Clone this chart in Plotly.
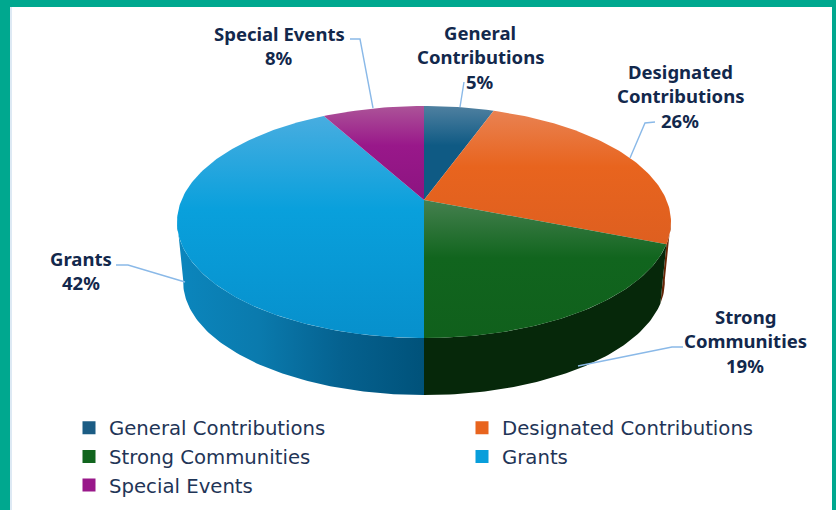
import math
import plotly.graph_objects as go

categories = ["General Contributions", "Designated Contributions", "Strong Communities", "Grants", "Special Events"]
values = [5.5, 25.5, 19, 42, 8]
top_colors = ["#0f5a84", "#e8641e", "#11651e", "#09a0dc", "#99188a"]
top_light = ["#4f80a0", "#e98252", "#45804f", "#48ade0", "#ac5398"]
top_dark = ["#0f5a84", "#de5f20", "#10601c", "#0790cc", "#8c1480"]
legend_colors = ["#1b5c84", "#e8641e", "#11651e", "#089edb", "#99188a"]
side_colors = [
    ["#123f5c", "#123f5c"],
    ["#5c2206", "#7a2e08"],
    ["#06280a", "#06280a"],
    ["#0b86bd", "#0a7aad", "#05618f", "#00527a"],
    ["#6a1060", "#6a1060"],
]
label_lines = [
    ["General", "Contributions", "5%"],
    ["Designated", "Contributions", "26%"],
    ["Strong", "Communities", "19%"],
    ["Grants", "42%"],
    ["Special Events", "8%"],
]
label_anchor = [(480, 32), (680, 71), (745, 316), (81, 258), (279, 33)]
leaders = [
    [(464, 82), (460, 107)],
    [(655, 122), (645, 123), (630, 158)],
    [(683, 347), (672, 347), (578, 366)],
    [(116, 265), (128, 265), (185, 282)],
    [(350, 39), (360, 39), (373, 108)],
]

W, H = 836, 510
CX, CY = 424, 200
A, B, K = 242.5, 111.8, 0.19
S, D = 0.975, 60.5


def top_pt(theta):
    t = math.radians(theta)
    w = 1 + K * math.cos(t)
    return CX + A * math.sin(t) / w, CY - B * math.cos(t) / w


def bottom_pt(theta):
    x, y = top_pt(theta)
    return CX + S * (x - CX), CY + S * (y - CY) + D


fig = go.Figure()

total = sum(values)
edges = [0]
for v in values:
    edges.append(edges[-1] + 360 * v / total)

# side wall: one outline per slice on the front-facing arc
VIS_RIGHT, VIS_LEFT = 100.0, 260.0
for i in range(len(values)):
    a0, a1 = max(edges[i], VIS_RIGHT), min(edges[i + 1], VIS_LEFT)
    if a1 <= a0:
        continue
    n = max(4, int(a1 - a0))
    thetas = [a0 + (a1 - a0) * j / n for j in range(n + 1)]
    p = [top_pt(t) for t in thetas] + [bottom_pt(t) for t in reversed(thetas)]
    p.append(p[0])
    xs = [q[0] for q in p]
    ys = [q[1] for q in p]
    cols = side_colors[i]
    fig.add_trace(go.Scatter(
        x=xs, y=ys, mode="lines", fill="toself",
        fillgradient=dict(type="horizontal", start=min(xs), stop=max(xs),
                          colorscale=[[j / (len(cols) - 1), c] for j, c in enumerate(cols)]),
        line=dict(width=0), hoverinfo="skip", showlegend=False))

# top face
for i, (name, v) in enumerate(zip(categories, values)):
    a0, a1 = edges[i], edges[i + 1]
    n = max(8, int(a1 - a0))
    arc = [top_pt(a0 + (a1 - a0) * j / n) for j in range(n + 1)]
    pts = [(CX, CY)] + arc + [(CX, CY)]
    xs = [q[0] for q in pts]
    ys = [q[1] for q in pts]
    y0, y1 = min(ys), max(ys)
    fig.add_trace(go.Scatter(
        x=xs, y=ys, mode="lines", fill="toself",
        fillgradient=dict(type="vertical", start=y0, stop=y1,
                          colorscale=[[0, top_light[i]], [0.42, top_colors[i]], [1, top_dark[i]]]),
        line=dict(width=0), name=name, showlegend=False,
        hovertemplate=f"{name}<extra></extra>"))

# legend entries
for name, col in zip(categories, legend_colors):
    fig.add_trace(go.Scatter(
        x=[None], y=[None], mode="markers", name=name,
        marker=dict(symbol="square", size=13, color=col)))

annotations = []
for lines, (ax, ay) in zip(label_lines, label_anchor):
    for k, text in enumerate(lines):
        annotations.append(dict(
            x=ax, y=ay + k * 24.7, xref="x", yref="y", text=text, showarrow=False,
            xanchor="center", yanchor="middle",
            font=dict(family="Noto Sans", size=18.5, color="#12284c", weight="bold")))

teal = "#00a88f"
shapes = [
    dict(type="rect", xref="x", yref="y", x0=0, x1=W, y0=0, y1=7, fillcolor=teal, line_width=0, layer="below"),
    dict(type="rect", xref="x", yref="y", x0=0, x1=10, y0=0, y1=H, fillcolor=teal, line_width=0, layer="below"),
    dict(type="rect", xref="x", yref="y", x0=832, x1=W, y0=0, y1=H, fillcolor=teal, line_width=0, layer="below"),
    dict(type="rect", xref="x", yref="y", x0=10, x1=12, y0=7, y1=H, fillcolor="#dde9f4", line_width=0, layer="below"),
]
for seg in leaders:
    shapes.append(dict(
        type="path", xref="x", yref="y",
        path="M " + " L ".join(f"{x},{y}" for x, y in seg),
        line=dict(color="#8ab9e8", width=1.4), fillcolor="rgba(0,0,0,0)", layer="above"))

fig.update_layout(
    width=W, height=H, margin=dict(l=0, r=0, t=0, b=0, autoexpand=False),
    paper_bgcolor="white", plot_bgcolor="white",
    xaxis=dict(range=[0, W], visible=False, fixedrange=True),
    yaxis=dict(range=[H, 0], visible=False, fixedrange=True),
    shapes=shapes, annotations=annotations,
    legend=dict(
        orientation="h", x=69 / W, y=1 - 408.5 / H, xanchor="left", yanchor="top",
        entrywidth=348, entrywidthmode="pixels", traceorder="normal",
        bgcolor="rgba(0,0,0,0)",
        font=dict(family="DejaVu Sans", size=19.7, color="#1f3557")),
)

fig.write_html("out.html", config={"displayModeBar": False},
               post_script="document.body.style.margin='0';document.body.style.overflow='hidden';")
